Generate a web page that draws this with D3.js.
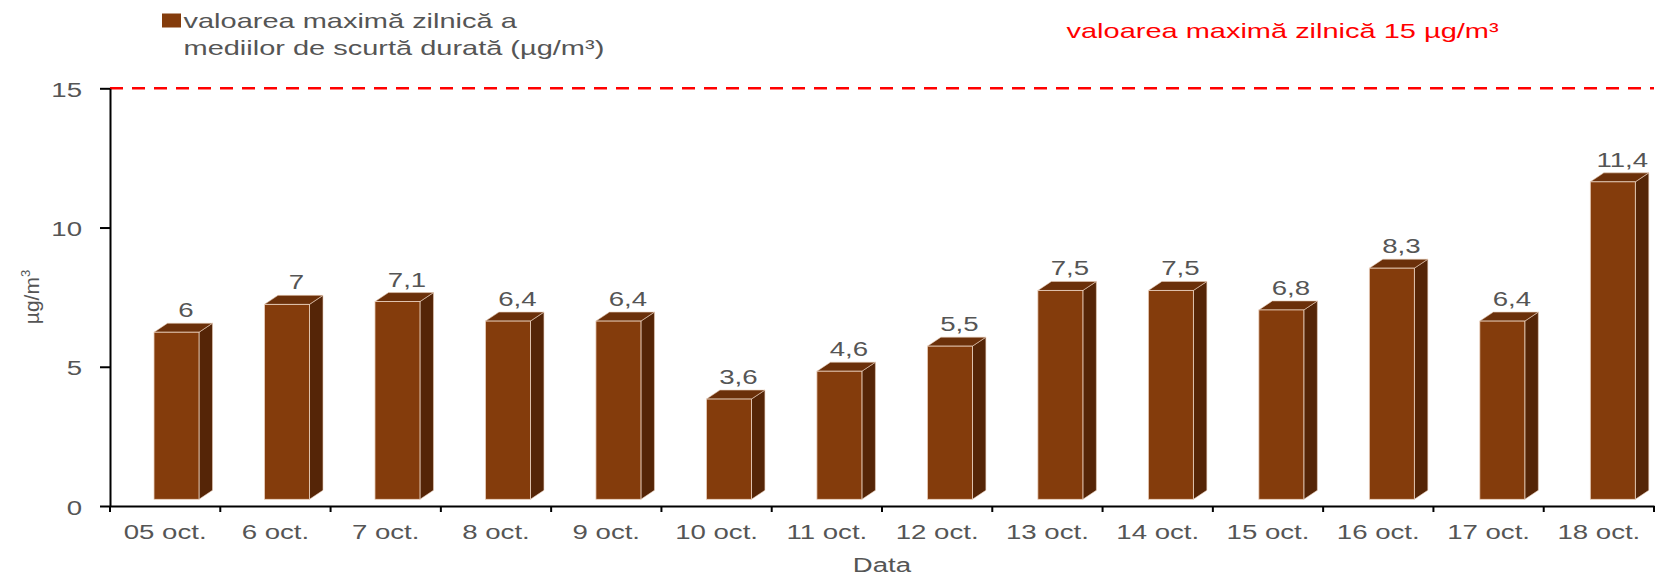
<!DOCTYPE html>
<html>
<head>
<meta charset="utf-8">
<script src="https://cdn.jsdelivr.net/npm/d3@7"></script>
<style>
  body { margin: 0; background: #fff; }
  text { font-family: "Liberation Sans", Arial, sans-serif; }
</style>
</head>
<body>
<div id="chart"></div>
<script>
const ancho = 1661
const alto = 579

// datos
const categorias = ["05 oct.", "6 oct.", "7 oct.", "8 oct.", "9 oct.", "10 oct.", "11 oct.",
  "12 oct.", "13 oct.", "14 oct.", "15 oct.", "16 oct.", "17 oct.", "18 oct."]
const valores = [6, 7, 7.1, 6.4, 6.4, 3.6, 4.6, 5.5, 7.5, 7.5, 6.8, 8.3, 6.4, 11.4]
const ticksY = [0, 5, 10, 15]
const limita = 15
const textoLeyenda = ["valoarea maximă zilnică a", "mediilor de scurtă durată (µg/m³)"]
const textoLimita = "valoarea maximă zilnică 15 µg/m³"

const sx = 1.38          // el texto del original sale ensanchado
const gris = "#555555"
const colorFrente = "#843c0c", colorLado = "#552507", colorTapa = "#6b300a"
const prof = { dx: 13.5, dy: 9 }   // falso 3d
const elev = 6.7                   // las barras empiezan un poco por encima del eje

const svg = d3.select("#chart").append("svg")
  .attr("width", ancho)
  .attr("height", alto)

const x = d3.scaleBand().domain(categorias).range([110, 1654])
const xBarra = d3.scalePoint().domain(categorias).range([176.5, 1612.8])
const y = d3.scaleLinear().domain([0, 15]).range([506, 88.3])
const fmt = d3.formatLocale({ decimal: ",", thousands: ".", grouping: [3], currency: ["", ""] }).format("~f")

// linea limite
svg.append("line")
  .attr("x1", x.range()[0]).attr("x2", x.range()[1])
  .attr("y1", y(limita)).attr("y2", y(limita))
  .attr("stroke", "#ff0000").attr("stroke-width", 2.5)
  .attr("stroke-dasharray", "13,9")

// barras
const barras = svg.append("g").selectAll("g").data(categorias).join("g")
barras.each(function(c, i) {
  const g = d3.select(this)
  const x0 = xBarra(c) - 22.5, x1 = xBarra(c) + 22.5
  const yt = y(valores[i]) - elev, yb = y(0) - elev
  g.append("polygon")
    .attr("points", [[x1, yt], [x1 + prof.dx, yt - prof.dy], [x1 + prof.dx, yb - prof.dy], [x1, yb]].join(" "))
    .attr("fill", colorLado).attr("stroke", "#e8cdb9").attr("stroke-width", 0.6)
  g.append("polygon")
    .attr("points", [[x0, yt], [x0 + prof.dx, yt - prof.dy], [x1 + prof.dx, yt - prof.dy], [x1, yt]].join(" "))
    .attr("fill", colorTapa).attr("stroke", "#e8cdb9").attr("stroke-width", 0.6)
  g.append("rect")
    .attr("x", x0).attr("y", yt)
    .attr("width", x1 - x0).attr("height", yb - yt)
    .attr("fill", colorFrente).attr("stroke", "#ecd3c1").attr("stroke-width", 0.8)
  g.append("text")
    .attr("transform", `translate(${xBarra(c) + 9.5},${yt - prof.dy - 6}) scale(${sx},1)`)
    .attr("text-anchor", "middle")
    .attr("font-size", 20)
    .attr("fill", gris)
    .text(fmt(valores[i]))
})

// ejes
const ejeY = svg.append("g")
  .attr("transform", "translate(110,0)")
  .call(d3.axisLeft(y).tickValues(ticksY).tickSize(10).tickSizeOuter(0))
ejeY.select(".domain").attr("stroke", "#000").attr("stroke-width", 2)
ejeY.selectAll(".tick line").attr("stroke", "#000").attr("stroke-width", 2)
ejeY.selectAll(".tick text")
  .attr("x", null).attr("dy", null)
  .attr("transform", `translate(-28,8) scale(${sx},1)`)
  .attr("font-size", 20).attr("fill", gris)
  .attr("font-family", null)

const ejeX = svg.append("g")
  .attr("transform", `translate(0,${y(0)})`)
  .call(d3.axisBottom(x).tickSize(0).tickSizeOuter(0))
ejeX.select(".domain").attr("stroke", "#000").attr("stroke-width", 2)
ejeX.selectAll(".tick text")
  .attr("y", null).attr("dy", null)
  .attr("transform", `translate(0,33) scale(${sx},1)`)
  .attr("font-size", 20).attr("fill", gris)
  .attr("font-family", null)

// marcas entre categorias
const bordes = categorias.map(c => x(c)).concat([x.range()[1]])
ejeX.append("g").selectAll("line").data(bordes).join("line")
  .attr("x1", d => d).attr("x2", d => d)
  .attr("y1", 0).attr("y2", 6)
  .attr("stroke", "#000").attr("stroke-width", 2)

// titulos de ejes
svg.append("text")
  .attr("transform", `translate(${(x.range()[0] + x.range()[1]) / 2},572) scale(${sx},1)`)
  .attr("text-anchor", "middle")
  .attr("font-size", 20).attr("fill", gris)
  .text("Data")

const tituloY = svg.append("text")
  .attr("transform", "translate(39,297) rotate(-90)")
  .attr("text-anchor", "middle")
  .attr("font-size", 21).attr("fill", gris)
tituloY.append("tspan").text("µg/m")
tituloY.append("tspan").attr("font-size", 13).attr("dy", -9).text("3")

// leyenda
svg.append("rect")
  .attr("x", 162).attr("y", 13.5).attr("width", 19).attr("height", 14)
  .attr("fill", colorFrente)
svg.append("g").selectAll("text").data(textoLeyenda).join("text")
  .attr("transform", (d, i) => `translate(183.5,${27.5 + i * 27}) scale(${sx},1)`)
  .attr("font-size", 21).attr("fill", gris)
  .text(d => d)

svg.append("text")
  .attr("transform", `translate(1066.5,37.5) scale(${sx},1)`)
  .attr("font-size", 21).attr("fill", "#ff0000")
  .text(textoLimita)
</script>
</body>
</html>
